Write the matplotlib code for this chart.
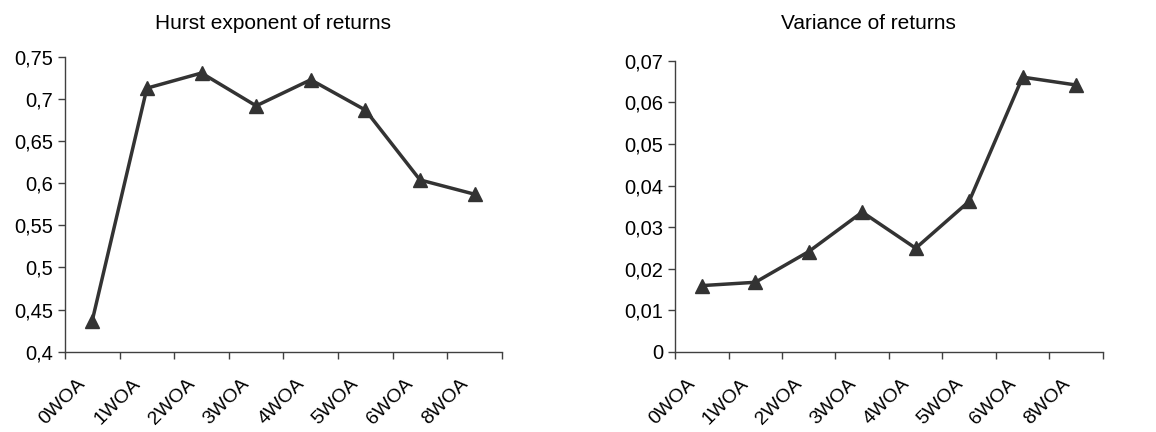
import numpy as np
import matplotlib.pyplot as plt
from matplotlib.ticker import FuncFormatter

plt.rcParams['font.family'] = ['Liberation Sans', 'DejaVu Sans']

# data
weeks = ["0WOA", "1WOA", "2WOA", "3WOA", "4WOA", "5WOA", "6WOA", "8WOA"]
hurst = [0.437, 0.713, 0.731, 0.692, 0.723, 0.687, 0.604, 0.587]
variance = [0.0159, 0.0167, 0.0241, 0.0336, 0.0249, 0.0362, 0.0661, 0.0642]

line_col = "#333333"
x = np.arange(len(weeks)) + 0.5

fig = plt.figure(figsize=(11.56, 4.32), dpi=100)
ax1 = fig.add_axes([0.0562, 0.186, 0.378, 0.682])
ax2 = fig.add_axes([0.584, 0.186, 0.370, 0.673])


def comma(v, pos):
    s = ("%.2f" % v).rstrip("0").rstrip(".")
    return s.replace(".", ",")


def style(ax, yvals, ylim, step, title, tx):
    ax.plot(x, yvals, color=line_col, lw=2.5, marker="^", ms=10,
            markerfacecolor=line_col, markeredgecolor=line_col)
    ax.set_xlim(0, len(weeks))
    ax.set_ylim(*ylim)
    ax.set_yticks(np.arange(ylim[0], ylim[1] + step / 2, step))
    ax.yaxis.set_major_formatter(FuncFormatter(comma))
    ax.set_xticks(np.arange(len(weeks) + 1))
    ax.set_xticklabels([])
    # labels sit a little left of the category centre, like Excel
    ax.set_xticks(x - 0.28, minor=True)
    ax.set_xticklabels(weeks, minor=True, rotation=45, ha="right", va="top",
                       rotation_mode="anchor")
    ax.tick_params(axis="x", which="minor", length=0, pad=17, labelsize=14)
    ax.tick_params(axis="both", which="major", length=5, width=1,
                   color="#404040", labelsize=14.5, direction="out")
    for s in ["top", "right"]:
        ax.spines[s].set_visible(False)
    for s in ["left", "bottom"]:
        ax.spines[s].set_color("#404040")
        ax.spines[s].set_linewidth(1)
    fig.text(tx, 0.933, title, ha="center", va="baseline", fontsize=15)


style(ax1, hurst, (0.4, 0.75), 0.05, "Hurst exponent of returns", 273 / 1156)
style(ax2, variance, (0.0, 0.07), 0.01, "Variance of returns", 868 / 1156)

fig.savefig("out.png", dpi=100)
